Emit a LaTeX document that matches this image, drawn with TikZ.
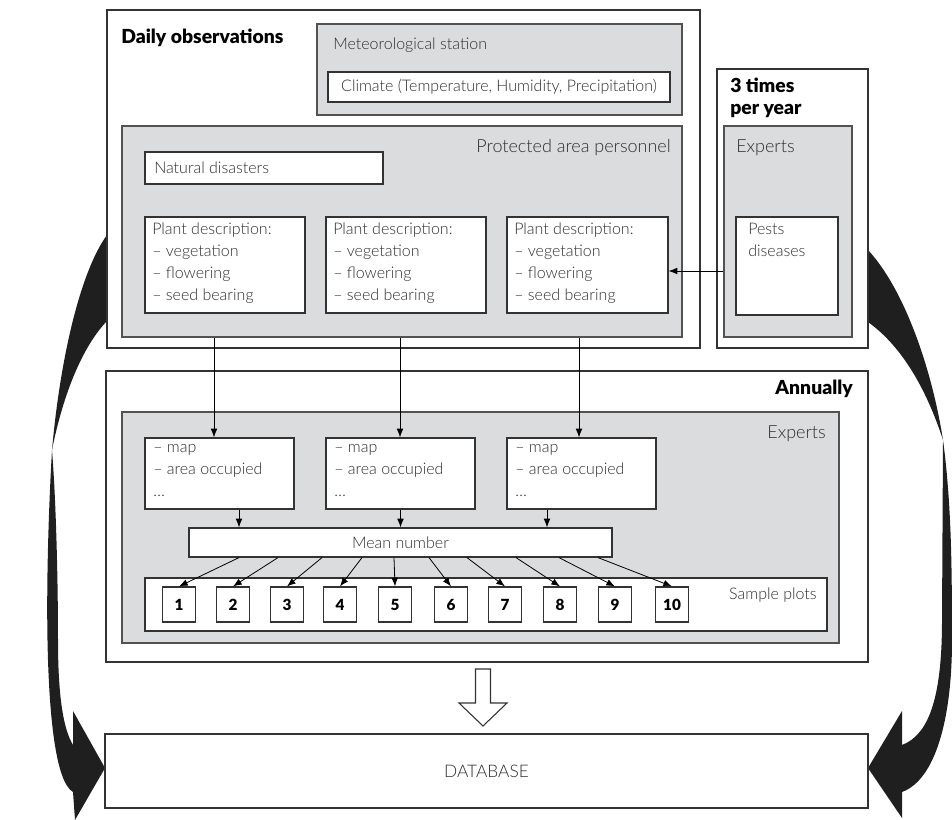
\documentclass[tikz,border=0pt]{standalone}
\usepackage{fontspec}
\setmainfont{Lato Light}[BoldFont={Lato Black}]
\usetikzlibrary{fit,calc,arrows.meta}
\definecolor{boxgray}{HTML}{DBDCDE}
\definecolor{edge}{HTML}{333333}
\definecolor{txtc}{HTML}{2E2E2E}
\begin{document}
\begin{tikzpicture}[x=0.75pt,y=-0.75pt,
  frame/.style={draw=edge, line width=0.9pt, fill=white, inner sep=0pt},
  graybox/.style={draw=edge!85, line width=1.1pt, fill=boxgray, inner sep=0pt},
  wbox/.style={draw=edge, line width=0.9pt, fill=white, inner sep=0pt},
  lbl/.style={font=\fontsize{12}{16.5}\selectfont, text=txtc, inner sep=0pt, align=left},
  glbl/.style={font=\fontsize{13.5}{16.5}\selectfont, text=txtc, inner sep=0pt, align=left},
  ttl/.style={font=\fontsize{14.5}{16.5}\selectfont\bfseries, text=black, inner sep=0pt, align=left},
  arr/.style={draw=black, line width=0.6pt, -{Latex[length=6.5pt,width=5pt]}},
  numbox/.style={draw=edge, line width=0.9pt, fill=white, minimum width=24.75pt, minimum height=26.25pt, inner sep=0pt, font=\fontsize{11.5}{12}\selectfont\bfseries},
  bigarrow/.style={fill=black!88, draw=none},
  hollow/.style={draw=edge, line width=0.8pt, fill=white}
]
\useasboundingbox (0,0) rectangle (952,820);

% big curved arrows (behind boxes)
\fill[bigarrow] (868,250) .. controls (905,290) and (932,370) .. (943,440)
   .. controls (925,385) and (900,345) .. (868,322) -- cycle;
\fill[bigarrow] (943,440) .. controls (951,500) and (952,560) .. (952,640)
   .. controls (952,720) and (935,780) .. (902,792) -- (902,818) -- (868,768)
   -- (902,711) -- (902,745) .. controls (928,735) and (942,700) .. (942,620) -- cycle;
\fill[bigarrow] (107,235) .. controls (80,272) and (60,360) .. (52,450)
   .. controls (64,390) and (84,345) .. (107,321) -- cycle;
\fill[bigarrow] (52,450) .. controls (48,520) and (46,600) .. (48,660)
   .. controls (50,720) and (56,782) .. (73,792) -- (75,820) -- (105,768)
   -- (73,711) -- (73,745) .. controls (64,730) and (58,700) .. (58,640)
   .. controls (58,580) and (56,500) .. (52,450) -- cycle;

% Daily observations
\node[frame, fit={(107,10) (700,348)}] (daily) {};
\node[ttl, anchor=west] (tdaily) at (121,38) {Daily observations};
\node[graybox, fit={(317,24) (682,115)}] (meteo) {};
\node[lbl, anchor=west] (tmeteo) at (333,45) {Meteorological station};
\node[wbox, fit={(328,72) (670,102)}] (climate) {};
\node[lbl] (tclimate) at (climate.center) {Climate (Temperature, Humidity, Precipitation)};
\node[graybox, fit={(122,126) (682,337)}] (pa) {};
\node[glbl, anchor=east] (tpa) at (671,148) {Protected area personnel};
\node[wbox, fit={(145,152) (383,184)}] (natdis) {};
\node[lbl, anchor=west] (tnatdis) at (154,168) {Natural disasters};
\node[wbox, fit={(145,217) (305,313)}] (plant1) {};
\node[wbox, fit={(326,217) (486,313)}] (plant2) {};
\node[wbox, fit={(507,217) (668,313)}] (plant3) {};
\foreach \p/\x in {1/152,2/333,3/514}{
  \node[lbl, anchor=north west] (tplant\p) at (\x,223) {Plant description:\\– vegetation\\– flowering\\– seed bearing};
}

% 3 times per year
\node[frame, fit={(717,69) (868,348)}] (three) {};
\node[ttl, anchor=north west] (tthree) at (730,78) {3 times\\per year};
\node[graybox, fit={(724,126) (852,337)}] (exp3) {};
\node[glbl, anchor=west] (texp3) at (736,148) {Experts};
\node[wbox, fit={(736,217) (838,315)}] (pests) {};
\node[lbl, anchor=north west] (tpests) at (748,223) {Pests\\diseases};

% Annually
\node[frame, fit={(106,371) (868,662)}] (annual) {};
\node[ttl, anchor=east] (tannual) at (853,389) {Annually};
\node[graybox, fit={(122,412) (839,643)}] (expa) {};
\node[glbl, anchor=east] (texpa) at (826,434) {Experts};
\node[wbox, fit={(145,438) (294,509)}] (map1) {};
\node[wbox, fit={(326,438) (475,509)}] (map2) {};
\node[wbox, fit={(507,438) (656,509)}] (map3) {};
\foreach \p/\x in {1/153,2/334,3/515}{
  \node[lbl, anchor=north west] (tmap\p) at (\x,444) {– map\\– area occupied\\\ldots};
}
\node[wbox, fit={(189,528) (612,557)}] (mean) {};
\node[lbl] (tmean) at (mean.center) {Mean number};
\node[wbox, fit={(145,578) (827,631)}] (sample) {};
\node[lbl, anchor=east] (tsample) at (817,595) {Sample plots};
\foreach \x [count=\i] in {179,233,287,340,395,451,505,560,615,672}{
  \node[numbox] (n\i) at (\x,604.5) {\i};
}

% Database
\node[wbox, fit={(105,734) (868,808)}] (db) {};
\node[font=\fontsize{13}{14}\selectfont, text=txtc, inner sep=0pt] (tdb) at (db.center) {DATABASE};

% hollow arrow
\draw[hollow] (475.5,669) -- (490.5,669) -- (490.5,703) -- (507,703) -- (483,726)
   -- (459,703) -- (475.5,703) -- cycle;

% connectors
\path (map1.north) ++(-5.5,0) coordinate (c1);
\path (map2.north) ++(-0.5,0) coordinate (c2);
\path (map3.north) ++(-2.5,0) coordinate (c3);
\foreach \i in {1,2,3}{
  \draw[arr] (pa.south -| c\i) -- (c\i);
}
\path (map1.south) ++(19.5,0) coordinate (d1);
\path (map2.south) ++(0,0) coordinate (d2);
\path (map3.south) ++(-34.5,0) coordinate (d3);
\foreach \i in {1,2,3}{
  \draw[arr] (d\i) -- (mean.north -| d\i);
}
\coordinate (py) at (0,271);
\draw[arr] (exp3.west |- py) -- (plant3.east |- py);
\foreach \s [count=\i] in {239,278,322,362,394,429,467,516,559,598}{
  \draw[arr] ($(mean.south)+(\s-400.5,0)$) -- (n\i.north);
}
\end{tikzpicture}
\end{document}
